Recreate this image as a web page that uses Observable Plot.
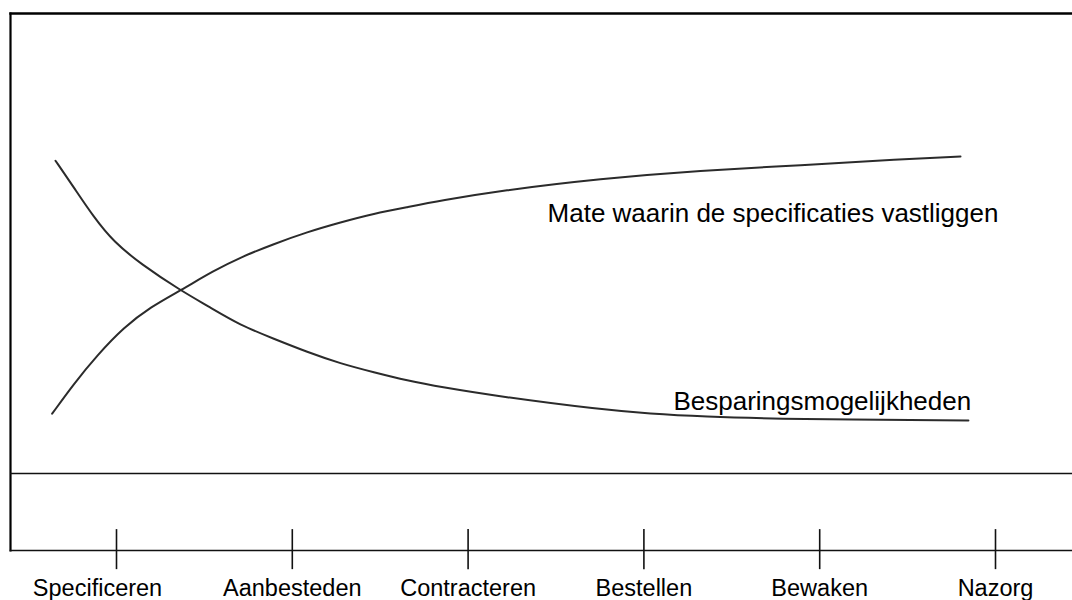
<!DOCTYPE html>
<html>
<head>
<meta charset="utf-8">
<script src="https://cdn.jsdelivr.net/npm/d3@7"></script>
<script src="https://cdn.jsdelivr.net/npm/@observablehq/plot@0.6"></script>
<style>
  html, body { margin: 0; padding: 0; background: #fff; }
  #chart svg { display: block; }
</style>
</head>
<body>
<div id="chart"></div>
<script>
// Phases along the procurement process (x = phase index)
const stages = ["Specificeren", "Aanbesteden", "Contracteren", "Bestellen", "Bewaken", "Nazorg"];

// "Mate waarin de specificaties vastliggen" (rising curve)
const specX = [-0.366, -0.243, -0.110, 0.042, 0.193, 0.364, 0.554, 0.705, 0.895, 1.085, 1.274, 1.464, 1.654, 1.843, 2.184, 2.753, 3.322, 3.891, 4.460, 4.801];
const specY = [13.0, 19.5, 25.7, 31.8, 36.2, 39.8, 44.1, 47.0, 49.9, 52.5, 54.6, 56.5, 57.9, 59.3, 61.5, 64.1, 65.9, 67.0, 68.3, 68.9];

// "Besparingsmogelijkheden" (falling curve)
const saveX = [-0.347, -0.243, -0.129, -0.015, 0.137, 0.364, 0.516, 0.705, 0.895, 1.085, 1.274, 1.464, 1.654, 1.843, 2.184, 2.753, 3.038, 3.322, 3.834, 4.846];
const saveY = [68.0, 62.2, 55.7, 50.3, 45.6, 39.8, 36.5, 32.2, 29.3, 26.4, 23.9, 22.0, 20.2, 18.8, 16.7, 13.9, 13.0, 12.4, 11.8, 11.5];

// Curve labels
const curveLabels = ["Mate waarin de specificaties vastliggen", "Besparingsmogelijkheden"];
const curveLabelX = [2.452, 3.168];
const curveLabelY = [54.6, 13.7];

const spec = specX.map((x, i) => ({x, y: specY[i]}));
const save = saveX.map((x, i) => ({x, y: saveY[i]}));
const labels = curveLabels.map((t, i) => ({t, x: curveLabelX[i], y: curveLabelY[i]}));
const ticks = stages.map((s, i) => ({s, i}));

const font = "'Liberation Sans', Arial, sans-serif";
const ink = "#2b2b2b";

const chart = Plot.plot({
  width: 1072,
  height: 600,
  marginTop: 13,
  marginLeft: 10,
  marginRight: 0,
  marginBottom: 50,
  style: {fontFamily: font, background: "#fff", overflow: "visible"},
  x: {domain: [0, 5], range: [116, 995], axis: null},
  y: {domain: [0, 100], range: [473, 13], axis: null},
  marks: [
    Plot.frame({anchor: "top", stroke: "#000", strokeWidth: 2.4}),
    Plot.frame({anchor: "left", stroke: "#000", strokeWidth: 2.2}),
    Plot.frame({anchor: "bottom", stroke: "#111", strokeWidth: 1.6}),
    Plot.ruleY([0], {stroke: "#111", strokeWidth: 1.6}),
    Plot.ruleX(ticks, {x: "i", y1: -12.2, y2: -20.9, stroke: "#111", strokeWidth: 1.6}),
    Plot.text(ticks.slice(0, 1), {x: "i", y: -26.7, text: "s", dx: -19, fontSize: 23.5, lineAnchor: "bottom", fill: "#000"}),
    Plot.text(ticks.slice(1), {x: "i", y: -26.7, text: "s", fontSize: 23.5, lineAnchor: "bottom", fill: "#000"}),
    Plot.line(spec, {x: "x", y: "y", curve: "basis", stroke: ink, strokeWidth: 2}),
    Plot.line(save, {x: "x", y: "y", curve: "basis", stroke: ink, strokeWidth: 2}),
    Plot.text(labels, {x: "x", y: "y", text: "t", textAnchor: "start", lineAnchor: "bottom", fontSize: 26, fill: "#000"})
  ]
});
document.getElementById("chart").appendChild(chart);
</script>
</body>
</html>
